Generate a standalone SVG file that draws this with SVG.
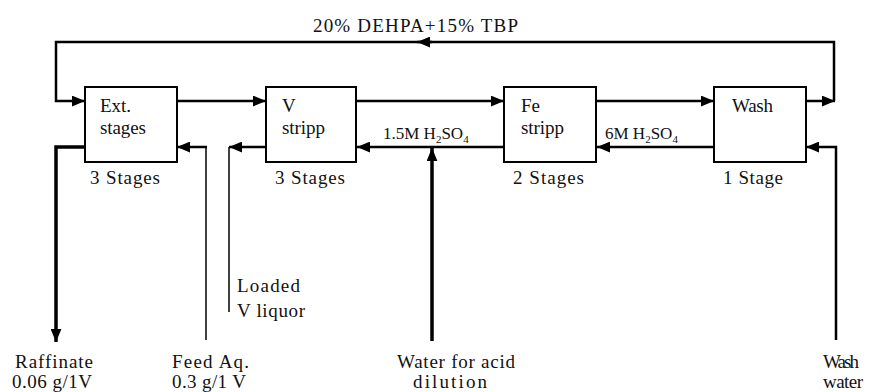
<svg xmlns="http://www.w3.org/2000/svg" width="874" height="392" viewBox="0 0 874 392">
<style>
  .box{fill:#fff;stroke:#000;stroke-width:2}
  text{font-family:'Liberation Serif','Times New Roman','DejaVu Serif',serif;fill:#111}
  .t{font-size:19px}
  .s{font-size:17px}
  .sub{font-size:11px}
  .c{fill:none;stroke:#000;stroke-width:2.5}
  .thin{fill:none;stroke:#000;stroke-width:1.5}
  .thick{fill:none;stroke:#000;stroke-width:3.5}
</style>
<defs>
  <marker id="ah" viewBox="0 0 12 10" refX="12" refY="5" markerWidth="13" markerHeight="11" markerUnits="userSpaceOnUse" orient="auto">
    <path d="M0,0 L12,5 L0,10 z" fill="#000"/>
  </marker>
</defs>
<rect width="874" height="392" fill="#fff"/>
<g id="connectors">
  <path class="c" d="M834,101 V42 H56 V101 H85" marker-end="url(#ah)"/>
  <path class="c" d="M432,42 H417" marker-end="url(#ah)"/>
  <path class="c" d="M177,101 H266" marker-end="url(#ah)"/>
  <path class="c" d="M356,101 H504" marker-end="url(#ah)"/>
  <path class="c" d="M596,101 H714" marker-end="url(#ah)"/>
  <path class="c" d="M806,101 H835" marker-end="url(#ah)"/>
  <path class="c" d="M714,147 H597" marker-end="url(#ah)"/>
  <path class="c" d="M504,147 H357" marker-end="url(#ah)"/>
  <path class="thick" d="M432,341 V148" marker-end="url(#ah)"/>
  <path class="c" d="M266,147 H229" marker-end="url(#ah)"/>
  <path class="thin" d="M229,147 V312"/>
  <path class="thin" d="M206,340 V147"/>
  <path class="c" d="M207,147 H177" marker-end="url(#ah)"/>
  <path class="thick" d="M85,147 H56 V342" marker-end="url(#ah)"/>
  <path class="c" d="M836,340 V147 H806" marker-end="url(#ah)"/>
</g>
<g id="ext">
  <rect class="box" x="85" y="87" width="92" height="75"/>
  <text class="t" x="100" y="112" textLength="31">Ext.</text>
  <text class="t" x="100" y="134" textLength="46">stages</text>
  <text class="t" x="90" y="184" textLength="70">3 Stages</text>
</g>
<g id="vstripp">
  <rect class="box" x="266" y="87" width="90" height="75"/>
  <text class="t" x="282" y="112">V</text>
  <text class="t" x="282" y="134" textLength="43">stripp</text>
  <text class="t" x="275" y="184" textLength="70">3 Stages</text>
</g>
<g id="festripp">
  <rect class="box" x="504" y="87" width="92" height="75"/>
  <text class="t" x="521" y="112">Fe</text>
  <text class="t" x="521" y="134" textLength="43">stripp</text>
  <text class="t" x="513" y="184" textLength="71">2 Stages</text>
</g>
<g id="wash">
  <rect class="box" x="714" y="87" width="92" height="75"/>
  <text class="t" x="732" y="112" textLength="41">Wash</text>
  <text class="t" x="723" y="184" textLength="60">1 Stage</text>
</g>
<g id="labels">
  <text class="t" x="313" y="32" textLength="205">20% DEHPA+15% TBP</text>
  <text class="s" x="383" y="139">1.5M H<tspan class="sub" dy="4">2</tspan><tspan dy="-4">SO</tspan><tspan class="sub" dy="4">4</tspan></text>
  <text class="s" x="605" y="139">6M H<tspan class="sub" dy="4">2</tspan><tspan dy="-4">SO</tspan><tspan class="sub" dy="4">4</tspan></text>
  <text class="t" x="237" y="292" textLength="63">Loaded</text>
  <text class="t" x="237" y="317" textLength="68">V liquor</text>
  <text class="t" x="15" y="368" textLength="78">Raffinate</text>
  <text class="t" x="12" y="388" textLength="80">0.06 g/1V</text>
  <text class="t" x="172" y="368" textLength="77">Feed Aq.</text>
  <text class="t" x="172" y="388" textLength="74">0.3 g/1 V</text>
  <text class="t" x="397" y="368" textLength="118">Water for acid</text>
  <text class="t" x="413" y="388" textLength="74">dilution</text>
  <text class="t" x="823" y="368" textLength="36">Wash</text>
  <text class="t" x="823" y="388" textLength="40">water</text>
</g>
</svg>
